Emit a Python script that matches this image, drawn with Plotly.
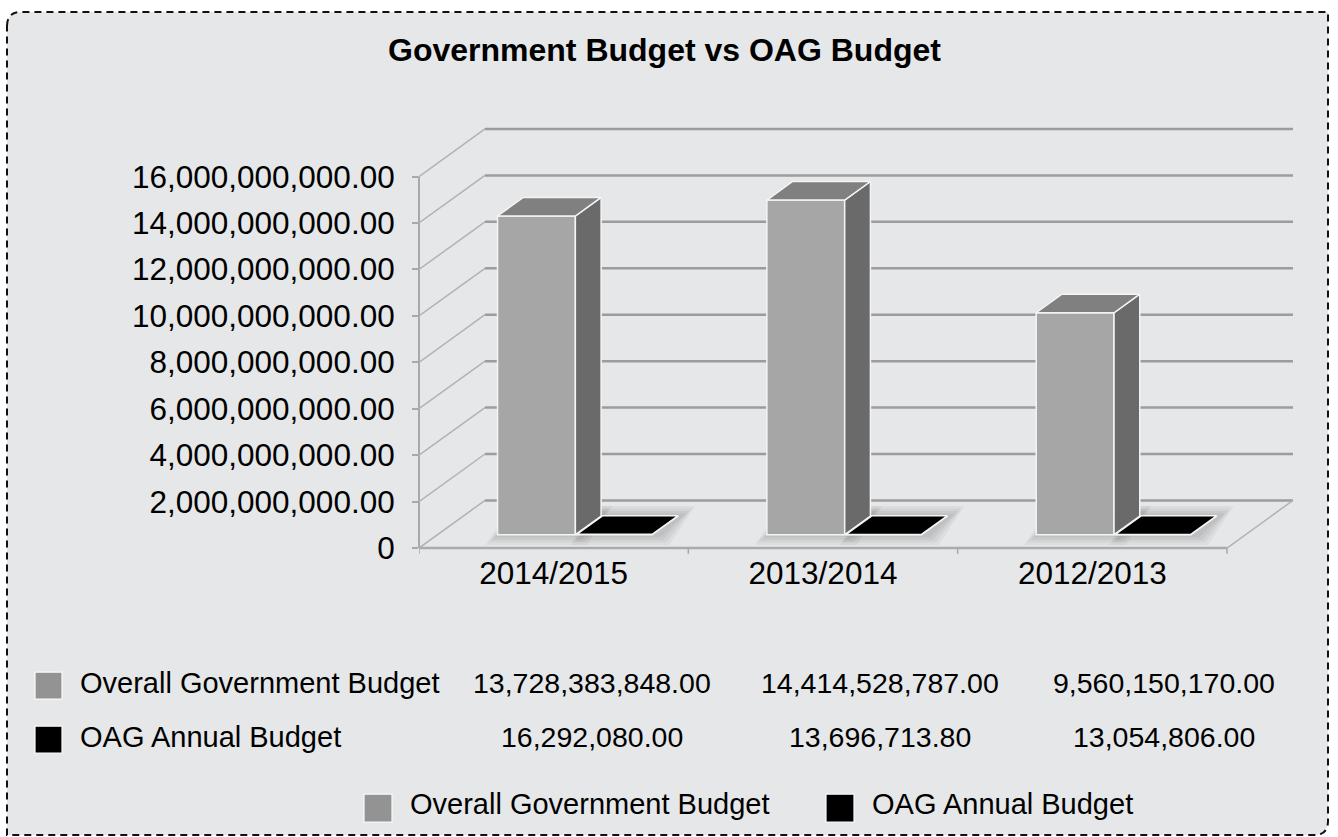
import plotly.graph_objects as go

# ---- data ----
categories = ["2014/2015", "2013/2014", "2012/2013"]
series_names = ["Overall Government Budget", "OAG Annual Budget"]
overall_budget = [13728383848.00, 14414528787.00, 9560150170.00]
oag_budget = [16292080.00, 13696713.80, 13054806.00]
y_tick_values = [0, 2e9, 4e9, 6e9, 8e9, 10e9, 12e9, 14e9, 16e9]

# ---- page / plot geometry ----
W, H = 1338, 837
ML, PW = 419, 878
MT = 119
PX_PER_UNIT = 23.213e-9      # pixels per currency unit on the value axis
YMIN, YMAX = -0.3e9, 18.48e9
PLOT_BOTTOM = MT + (YMAX - YMIN) * PX_PER_UNIT
MB = H - PLOT_BOTTOM
PH = PLOT_BOTTOM - MT
CAT_PX = 269.33
XMIN = -0.5
XMAX = XMIN + PW / CAT_PX

# pseudo-3D depth vector (x in category units, y in value units)
DX, DY = 0.245, 2.05e9
F0, BD = 0.28, 0.39          # bar front-face depth, bar depth (fractions)
BAR_SPECS = [                # (values, offset, width, front, top, side)
    (overall_budget, -0.277, 0.289, "#A6A6A6", "#808080", "#6A6A6A"),
    (oag_budget, 0.017, 0.280, "#000000", "#000000", "#000000"),
]
FONT = "Liberation Sans, Arial, sans-serif"


def paper_x(px):
    return (px - ML) / PW


def paper_y(py):
    return (PLOT_BOTTOM - py) / PH


def fmt(v):
    return "0" if v == 0 else f"{v:,.2f}"


fig = go.Figure()
shapes = []

# rounded dashed frame (round top-left and bottom-right corners)
L, R, T, B, r = 7, 1328, 12, 835, 14
pts = [("M", L, T + r), ("Q", L, T), ("", L + r, T), ("L", R, T), ("L", R, B - r),
       ("Q", R, B), ("", R - r, B), ("L", L, B)]
path = " ".join(f"{c}{paper_x(x):.5f},{paper_y(y):.5f}" for c, x, y in pts) + " Z"
shapes.append(dict(type="path", xref="paper", yref="paper", path=path,
                   fillcolor="#E6E7E8", layer="below",
                   line=dict(color="#111111", width=2, dash="7px,5px")))

# back-wall gridlines and side-wall diagonals
for v in y_tick_values:
    shapes.append(dict(type="line", xref="x", yref="y", layer="below",
                       x0=XMIN + DX, x1=len(categories) - 0.5 + DX, y0=v + DY, y1=v + DY,
                       line=dict(color="#9C9C9C", width=2.5)))
    shapes.append(dict(type="line", xref="x", yref="y", layer="below",
                       x0=XMIN, x1=XMIN + DX, y0=v, y1=v + DY,
                       line=dict(color="#B2B2B2", width=1.5)))

# front vertical axis
shapes.append(dict(type="line", xref="paper", yref="y", layer="below",
                   x0=0, x1=0, y0=0, y1=y_tick_values[-1],
                   line=dict(color="#A8A8A8", width=2)))
# floor edges
x_end = len(categories) - 0.5
shapes.append(dict(type="line", xref="x", yref="y", layer="below",
                   x0=XMIN, x1=x_end, y0=0, y1=0,
                   line=dict(color="#ABABAB", width=2.5)))
shapes.append(dict(type="line", xref="x", yref="y", layer="below",
                   x0=x_end, x1=x_end + DX, y0=0, y1=DY,
                   line=dict(color="#B2B2B2", width=1.5)))
# category boundary ticks
for k in range(len(categories) + 1):
    xb = XMIN + k
    shapes.append(dict(type="line", xref="x", yref="y", layer="below",
                       x0=xb, x1=xb, y0=0, y1=-0.25e9,
                       line=dict(color="#A8A8A8", width=1.5)))

# soft floor shadows under the bars
for s_idx, (vals, off, wd, *_c) in enumerate(BAR_SPECS):
    shift = 0.0 if s_idx == 0 else 0.02
    for i in range(len(categories)):
        xl = i + off + F0 * DX + shift
        xr = xl + wd
        b0 = F0 * DY
        for k in range(1, 5):
            ex, ey = 0.011 * k, 0.11e9 * k
            poly = [(xl - ex, b0 - ey), (xr + ex, b0 - ey),
                    (xr + BD * DX + ex, b0 + BD * DY + ey),
                    (xl + BD * DX - ex, b0 + BD * DY + ey)]
            p = "M" + " L".join(f"{x:.5f},{y:.1f}" for x, y in poly) + " Z"
            shapes.append(dict(type="path", xref="x", yref="y", layer="below",
                               path=p, fillcolor="rgba(0,0,0,0.045)",
                               line=dict(width=0)))

# bars: front faces through the bar trace, then side and top faces
for s_idx, (vals, off, wd, c_front, c_top, c_side) in enumerate(BAR_SPECS):
    fig.add_trace(go.Bar(
        x=[i + F0 * DX for i in range(len(categories))], y=vals,
        base=F0 * DY, offset=off, width=wd, name=series_names[s_idx],
        marker=dict(color=c_front, line=dict(color="#F4F4F4", width=1.5)),
        showlegend=False, hoverinfo="skip"))

for i in range(len(categories)):
    for s_idx, (vals, off, wd, c_front, c_top, c_side) in enumerate(BAR_SPECS):
        xl = i + off + F0 * DX
        xr = xl + wd
        b0 = F0 * DY
        top = b0 + vals[i]
        side = [(xr, b0), (xr, top), (xr + BD * DX, top + BD * DY),
                (xr + BD * DX, b0 + BD * DY), (xr, b0)]
        lid = [(xl, top), (xr, top), (xr + BD * DX, top + BD * DY),
               (xl + BD * DX, top + BD * DY), (xl, top)]
        for poly, col in ((side, c_side), (lid, c_top)):
            fig.add_trace(go.Scatter(
                x=[p[0] for p in poly], y=[p[1] for p in poly],
                mode="lines", fill="toself", fillcolor=col,
                line=dict(color="#F4F4F4", width=1.5),
                showlegend=False, hoverinfo="skip"))

annotations = []
# title
annotations.append(dict(xref="paper", yref="paper", x=paper_x(664), y=paper_y(50),
                        text="<b>Government Budget vs OAG Budget</b>", showarrow=False,
                        font=dict(family=FONT, size=32, color="#000000"),
                        xanchor="center", yanchor="middle"))

# data table beneath the chart
swatch_cols = ["#939393", "#000000"]
row_y = [683, 737]
value_x = [592, 880, 1164]
series_vals = [overall_budget, oag_budget]
for r_idx in range(2):
    cy = row_y[r_idx]
    shapes.append(dict(type="rect", xref="paper", yref="paper",
                       x0=paper_x(35), x1=paper_x(62),
                       y0=paper_y(cy - 11), y1=paper_y(cy + 16),
                       fillcolor=swatch_cols[r_idx],
                       line=dict(color="#FAFAFA", width=1.2)))
    annotations.append(dict(xref="paper", yref="paper", x=paper_x(78), y=paper_y(cy),
                            text=series_names[r_idx], showarrow=False,
                            font=dict(family=FONT, size=29, color="#000000"),
                            xanchor="left", yanchor="middle"))
    for c_idx in range(len(categories)):
        annotations.append(dict(xref="paper", yref="paper",
                                x=paper_x(value_x[c_idx]), y=paper_y(cy),
                                text=fmt(series_vals[r_idx][c_idx]), showarrow=False,
                                font=dict(family=FONT, size=28.5, color="#000000"),
                                xanchor="center", yanchor="middle"))

# legend at the bottom
leg_y = 804
for (sx, tx), name, col in zip([(364, 408), (826, 870)], series_names, swatch_cols):
    shapes.append(dict(type="rect", xref="paper", yref="paper",
                       x0=paper_x(sx), x1=paper_x(sx + 28),
                       y0=paper_y(leg_y - 10), y1=paper_y(leg_y + 18),
                       fillcolor=col, line=dict(color="#FAFAFA", width=1.2)))
    annotations.append(dict(xref="paper", yref="paper", x=paper_x(tx), y=paper_y(leg_y),
                            text=name, showarrow=False,
                            font=dict(family=FONT, size=29, color="#000000"),
                            xanchor="left", yanchor="middle"))

fig.update_layout(
    width=W, height=H,
    margin=dict(l=ML, r=W - ML - PW, t=MT, b=MB, pad=0),
    paper_bgcolor="#FFFFFF", plot_bgcolor="rgba(0,0,0,0)",
    barmode="overlay", showlegend=False,
    shapes=shapes, annotations=annotations,
    font=dict(family=FONT, color="#000000"),
    xaxis=dict(range=[XMIN, XMAX], showgrid=False, zeroline=False, showline=False,
               tickvals=list(range(len(categories))), ticktext=categories,
               ticks="", tickfont=dict(size=31.5, family=FONT, color="#000000"),
               ticklabelstandoff=-4, fixedrange=True),
    yaxis=dict(range=[YMIN, YMAX], showgrid=False, zeroline=False, showline=False,
               tickvals=y_tick_values, ticktext=[fmt(v) for v in y_tick_values],
               ticks="outside", ticklen=6, tickwidth=1.5, tickcolor="#A8A8A8",
               tickfont=dict(size=31.5, family=FONT, color="#000000"),
               ticklabelstandoff=11, fixedrange=True),
)

fig.write_html("out.html", config={"displayModeBar": False})
